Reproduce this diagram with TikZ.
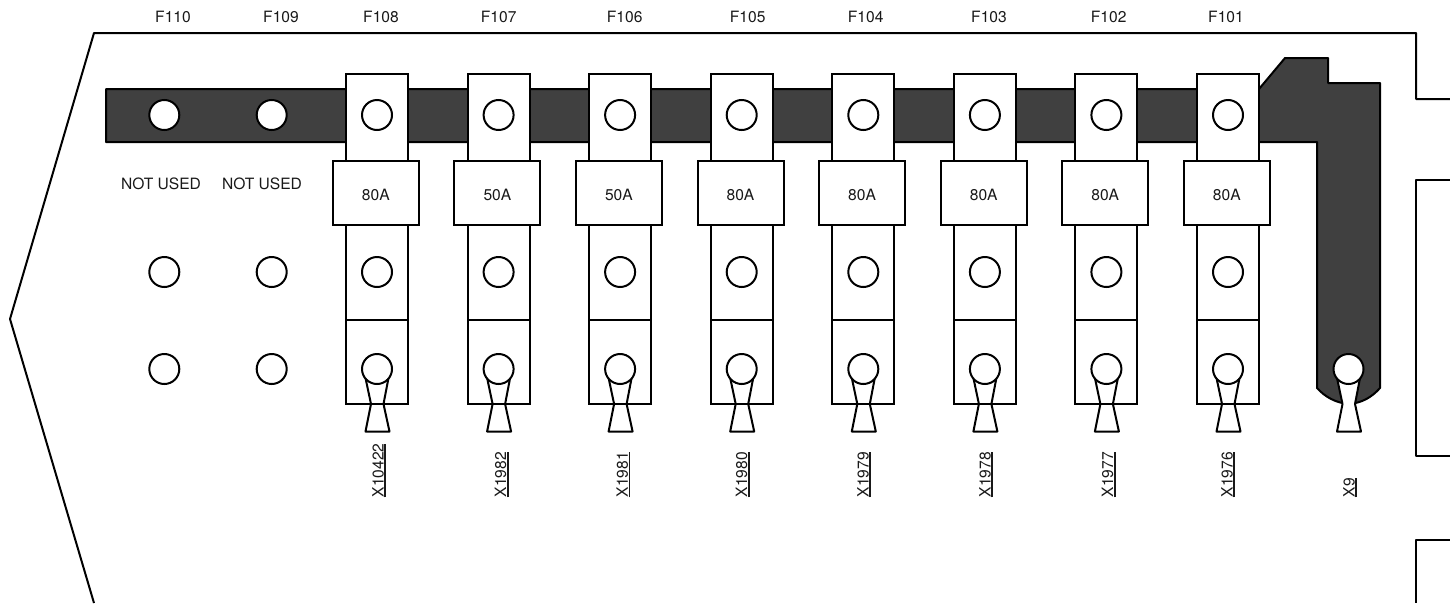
\documentclass[tikz,border=0pt]{standalone}
\usepackage{fontspec}
\setmainfont{TeX Gyre Heros}
\definecolor{bardark}{HTML}{404040}
\newcommand{\rulelabel}[1]{\setbox0\hbox{#1}\rlap{\rule[-2.3pt]{\wd0}{1.6pt}}\box0}
\tikzset{
  lbl/.style={inner sep=0pt,font=\fontsize{15.6pt}{17pt}\selectfont,text=black!90},
  hole/.style={circle,draw=black,fill=white,line width=2pt,minimum size=30pt,inner sep=0pt},
  partbox/.style={draw=black,fill=white,line width=2pt,line join=miter},
  outline/.style={draw=black,line width=2pt,line join=round},
  barshape/.style={draw=black,fill=bardark,line width=2pt,line join=round},
  term/.style={draw=black,fill=white,line width=2pt,line join=round}
}
\newcommand{\termpath}[1]{%
  \draw[term] (#1-11.5,378) -- (#1-6,404) -- (#1-11.5,431.5) -- (#1+12.5,431.5) -- (#1+6.5,404) -- (#1+11.5,378);}
\begin{document}
\begin{tikzpicture}[x=1pt,y=-1pt]
\useasboundingbox (0,0) rectangle (1450,603);
% panel outline
\draw[outline] (94,603) -- (10,319) -- (94,33) -- (1416,33) -- (1416,99) -- (1450,99);
\draw[outline] (1450,180) -- (1416,180) -- (1416,456) -- (1450,456);
\draw[outline] (1450,540) -- (1416,540) -- (1416,603);
% bus bar
\draw[barshape] (106,89) -- (1259,89) -- (1285,58) -- (1328,58) -- (1328,83) -- (1380,83) -- (1380,388)
  .. controls (1372,397) and (1362,403) .. (1349,404) .. controls (1336,403) and (1325,397) .. (1317,388)
  -- (1317,142) -- (106,142) -- cycle;
% spare positions
\foreach \n/\x/\nu in {F110/164.3/161,F109/271.7/262}{
  \node[hole] (top\n) at (\x,115) {};
  \node[hole] (mid\n) at (\x,272) {};
  \node[hole] (low\n) at (\x,369) {};
  \node[lbl] (nu\n) at (\nu,183.5) {NOT USED};
}
\node[lbl] (lF110) at (173,16.5) {F110};
\node[lbl] (lF109) at (281,16.5) {F109};
% fuses
\foreach \n/\x/\amp/\w/\lx/\ux in {F108/377/80A/X10422/381/385,F107/498.6/50A/X1982/498.7/507.7,F106/620.1/50A/X1981/624.7/629.3,F105/741.7/80A/X1980/747.7/748.7,F104/863.3/80A/X1979/865.7/870,F103/984.9/80A/X1978/989/992,F102/1106.4/80A/X1977/1108.7/1114.7,F101/1228/80A/X1976/1226/1234}{
  \termpath{\x}
  \path[partbox] (\x-31,74) rectangle (\x+31,170);
  \draw[partbox,fill=none] (\x-31,220) rectangle (\x+31,404);
  \draw[black,line width=2pt] (\x-31,319.5) -- (\x+31,319.5);
  \node[partbox,minimum width=86pt,minimum height=63.5pt,inner sep=0pt] (box\n) at (\x-1.2,193) {};
  \node[lbl] (amp\n) at (\x-1.2,194.5) {\amp};
  \node[hole] (top\n) at (\x,115) {};
  \node[hole] (mid\n) at (\x,272) {};
  \node[hole] (low\n) at (\x,369) {};
  \node[lbl] (l\n) at (\lx,16.7) {\n};
  \node[lbl,rotate=90,anchor=base west] (w\n) at (\ux-1.5,497.5) {\rulelabel{\w}};
}
% ground stud
\termpath{1348.5}
\node[hole] (lowX9) at (1348.5,369) {};
\node[lbl,rotate=90,anchor=base west] (wX9) at (1354.5,497.5) {\rulelabel{X9}};
\end{tikzpicture}
\end{document}
